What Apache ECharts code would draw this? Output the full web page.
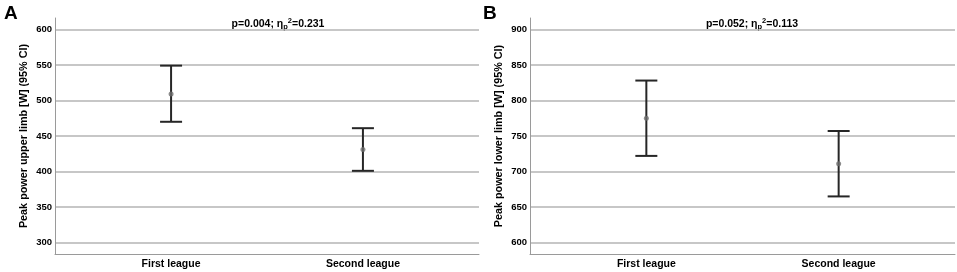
<!DOCTYPE html>
<html>
<head>
<meta charset="utf-8">
<script src="https://cdn.jsdelivr.net/npm/echarts@6/dist/echarts.min.js"></script>
<style>
  html, body { margin: 0; padding: 0; background: #fff; }
  #chart { width: 957px; height: 272px; }
</style>
</head>
<body>
<div id="chart"></div>
<script>
// categories on the x axis
var categories = ['First league', 'Second league'];

// panel A: peak power upper limb (mean, 95% CI)
var upperMean = [509, 431];
var upperLow = [470, 401];
var upperHigh = [549, 461];
var upperTicks = [300, 350, 400, 450, 500, 550, 600];

// panel B: peak power lower limb (mean, 95% CI)
var lowerMean = [775, 711];
var lowerLow = [722, 665];
var lowerHigh = [828, 757];
var lowerTicks = [600, 650, 700, 750, 800, 850, 900];

var font = 'Liberation Sans, Arial, sans-serif';

function ciData(low, high) {
    return categories.map(function (c, i) { return [i, low[i], high[i]]; });
}
function meanData(mean) {
    return categories.map(function (c, i) { return [i, mean[i]]; });
}

// whisker with caps
function errorBar(params, api) {
    var x = api.value(0);
    var lo = api.coord([x, api.value(1)]);
    var hi = api.coord([x, api.value(2)]);
    var half = 11;
    var style = { stroke: '#262626', lineWidth: 2 };
    return {
        type: 'group',
        children: [
            { type: 'line', shape: { x1: lo[0], y1: lo[1], x2: hi[0], y2: hi[1] }, style: style },
            { type: 'line', shape: { x1: lo[0] - half, y1: lo[1], x2: lo[0] + half, y2: lo[1] }, style: style },
            { type: 'line', shape: { x1: hi[0] - half, y1: hi[1], x2: hi[0] + half, y2: hi[1] }, style: style }
        ]
    };
}

function xAxis(gridIndex) {
    return {
        type: 'value', gridIndex: gridIndex,
        min: -0.605, max: 1.605,
        axisLine: { show: true, onZero: false, lineStyle: { color: '#9a9a9a', width: 1 } },
        axisTick: { show: false },
        splitLine: { show: false },
        axisLabel: {
            customValues: [0, 1],
            formatter: function (v) { return categories[Math.round(v)]; },
            color: '#000', fontWeight: 'bold', fontSize: 10.5, fontFamily: font, margin: 5
        }
    };
}

function yAxis(gridIndex, ticks, min, max, name) {
    return {
        type: 'value', gridIndex: gridIndex,
        min: min, max: max,
        name: name, nameLocation: 'middle', nameGap: 25,
        nameTextStyle: { color: '#000', fontWeight: 'bold', fontSize: 10.8, fontFamily: font },
        axisLine: { show: true, onZero: false, lineStyle: { color: '#9a9a9a', width: 1 } },
        axisTick: { show: false, customValues: ticks },
        axisLabel: {
            customValues: ticks,
            color: '#000', fontWeight: 'bold', fontSize: 9.5, fontFamily: font, margin: 3
        },
        splitLine: { show: true, lineStyle: { color: '#b4b4b4', width: 1.5 } }
    };
}

function statText(x, p, eta) {
    return {
        type: 'text', x: x, y: 24,
        style: {
            text: '{b|p=' + p + '; η}{sub|p}{sup|2}{b|=' + eta + '}',
            align: 'center', verticalAlign: 'middle',
            rich: {
                b: { fontSize: 10.5, fontWeight: 'bold', fontFamily: font, fill: '#000' },
                sub: { fontSize: 7.5, fontWeight: 'bold', fontFamily: font, fill: '#000', padding: [6, 0, 0, 0] },
                sup: { fontSize: 7.5, fontWeight: 'bold', fontFamily: font, fill: '#000', padding: [0, 0, 6, 0] }
            }
        }
    };
}

var chart = echarts.init(document.getElementById('chart'), null, { renderer: 'canvas' });
chart.setOption({
    animation: false,
    backgroundColor: '#fff',
    grid: [
        { left: 55, top: 18, width: 424, height: 236 },
        { left: 530, top: 18, width: 425, height: 236 }
    ],
    xAxis: [xAxis(0), xAxis(1)],
    yAxis: [
        yAxis(0, upperTicks, 284, 616, 'Peak power upper limb [W] (95% CI)'),
        yAxis(1, lowerTicks, 584, 916, 'Peak power lower limb [W] (95% CI)')
    ],
    graphic: [
        { type: 'text', x: 4, y: 4, style: { text: 'A', fontSize: 19, fontWeight: 'bold', fontFamily: font, fill: '#000' } },
        { type: 'text', x: 483, y: 4, style: { text: 'B', fontSize: 19, fontWeight: 'bold', fontFamily: font, fill: '#000' } },
        statText(278, '0.004', '0.231'),
        statText(752, '0.052', '0.113')
    ],
    series: [
        { type: 'custom', xAxisIndex: 0, yAxisIndex: 0, renderItem: errorBar, data: ciData(upperLow, upperHigh), z: 3 },
        { type: 'scatter', xAxisIndex: 0, yAxisIndex: 0, symbolSize: 5, itemStyle: { color: '#6e6e6e' }, data: meanData(upperMean), z: 4 },
        { type: 'custom', xAxisIndex: 1, yAxisIndex: 1, renderItem: errorBar, data: ciData(lowerLow, lowerHigh), z: 3 },
        { type: 'scatter', xAxisIndex: 1, yAxisIndex: 1, symbolSize: 5, itemStyle: { color: '#6e6e6e' }, data: meanData(lowerMean), z: 4 }
    ]
});
</script>
</body>
</html>
